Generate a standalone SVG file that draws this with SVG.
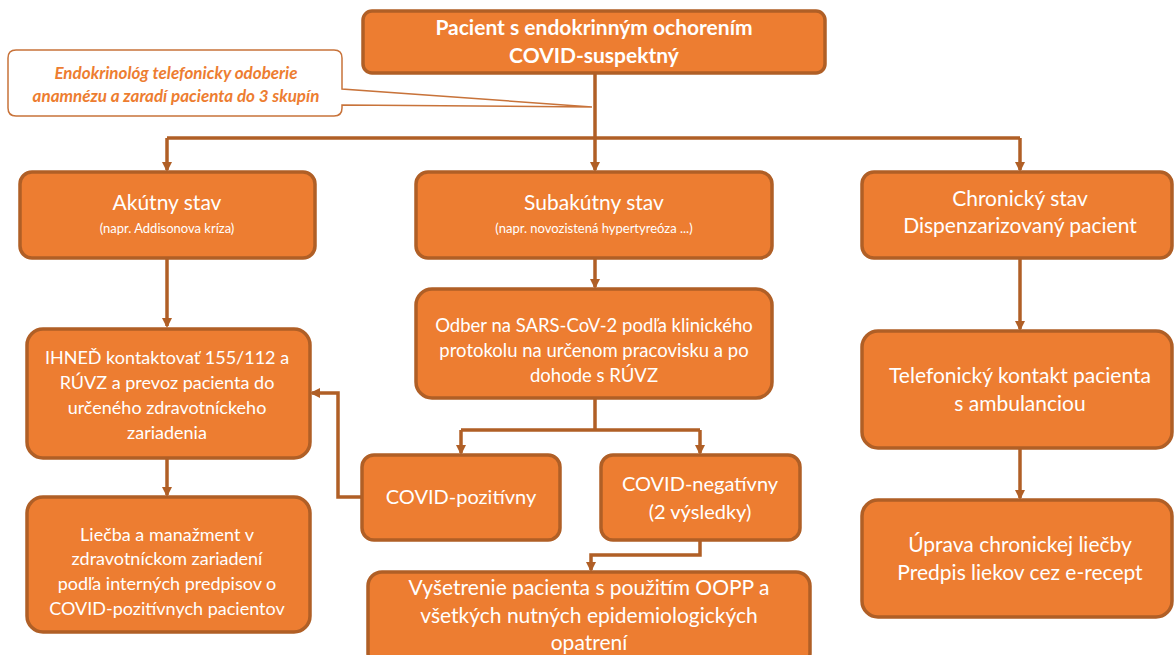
<svg xmlns="http://www.w3.org/2000/svg" width="1176" height="655" viewBox="0 0 1176 655">
<defs>
<marker id="ah" markerWidth="10" markerHeight="10" refX="8" refY="5" orient="auto" markerUnits="userSpaceOnUse" viewBox="0 0 10 10">
<path d="M0,0 L10,5 L0,10 z" fill="#B05F26"/>
</marker>
<style>
.box{fill:#ED7D31;stroke:#B05F26;stroke-width:3.5}
.t{font-family:Lato,"Noto Sans",sans-serif;fill:#fff;text-anchor:middle}
.m{font-size:18px}
.s{font-size:13px}
.h{font-size:21px}
.b{font-size:21px;font-weight:bold}
.c{fill:none;stroke:#B05F26;stroke-width:3.5}
</style>
</defs>
<rect width="1176" height="655" fill="#fff"/>
<g id="connectors">
<path class="c" d="M595,73 V138"/>
<path class="c" d="M167,138 H1020"/>
<path class="c" d="M167,138 V170" marker-end="url(#ah)"/>
<path class="c" d="M595,138 V170" marker-end="url(#ah)"/>
<path class="c" d="M1020,138 V170" marker-end="url(#ah)"/>
<path class="c" d="M167,259 V326" marker-end="url(#ah)"/>
<path class="c" d="M595,259 V287" marker-end="url(#ah)"/>
<path class="c" d="M1020,259 V329" marker-end="url(#ah)"/>
<path class="c" d="M595,399 V430 M461,430 H700"/>
<path class="c" d="M461,430 V453" marker-end="url(#ah)"/>
<path class="c" d="M700,430 V453" marker-end="url(#ah)"/>
<path class="c" d="M362,497 H338 V393 H312" marker-end="url(#ah)"/>
<path class="c" d="M167,459 V495" marker-end="url(#ah)"/>
<path class="c" d="M700,541 V555 H591 V570" marker-end="url(#ah)"/>
<path class="c" d="M1020,449 V498" marker-end="url(#ah)"/>
</g>
<g id="callout">
<path d="M16,50 H334 Q342,50 342,58 V89 L592,107 L342,105 V108 Q342,116 334,116 H16 Q8,116 8,108 V58 Q8,50 16,50 Z" fill="#fff" stroke="#C8733A" stroke-width="1.5"/>
<text class="t" x="176" y="79" style="font-size:17px;font-weight:bold;font-style:italic;fill:#ED7D31">Endokrinológ telefonicky odoberie</text>
<text class="t" x="176" y="102" style="font-size:17px;font-weight:bold;font-style:italic;fill:#ED7D31">anamnézu a zaradí pacienta do 3 skupín</text>
</g>
<g id="n-top">
<rect class="box" x="363" y="11" width="462" height="62" rx="9"/>
<text class="t b" x="594" y="35">Pacient s endokrinným ochorením</text>
<text class="t b" x="594" y="63">COVID-suspektný</text>
</g>
<g id="n-akutny">
<rect class="box" x="20" y="172" width="295" height="86" rx="12"/>
<text class="t h" x="167" y="210">Akútny stav</text>
<text class="t s" x="167" y="233">(napr. Addisonova kríza)</text>
</g>
<g id="n-subakutny">
<rect class="box" x="416" y="172" width="356" height="86" rx="12"/>
<text class="t h" x="594" y="210">Subakútny stav</text>
<text class="t s" x="594" y="233">(napr. novozistená hypertyreóza ...)</text>
</g>
<g id="n-chronicky">
<rect class="box" x="862" y="172" width="310" height="86" rx="12"/>
<text class="t h" x="1020" y="206">Chronický stav</text>
<text class="t h" x="1020" y="233">Dispenzarizovaný pacient</text>
</g>
<g id="n-ihned">
<rect class="box" x="27" y="329" width="283" height="129" rx="16"/>
<text class="t m" x="167" y="364">IHNEĎ kontaktovať 155/112 a</text>
<text class="t m" x="167" y="389">RÚVZ  a prevoz pacienta do</text>
<text class="t m" x="167" y="414">určeného zdravotníckeho</text>
<text class="t m" x="167" y="439">zariadenia</text>
</g>
<g id="n-odber">
<rect class="box" x="416" y="289" width="356" height="109" rx="16"/>
<text class="t" x="594" y="332" style="font-size:18.5px">Odber na SARS-CoV-2 podľa klinického</text>
<text class="t" x="594" y="357" style="font-size:18.5px">protokolu na určenom pracovisku a po</text>
<text class="t" x="594" y="382" style="font-size:18.5px">dohode s RÚVZ</text>
</g>
<g id="n-telefon">
<rect class="box" x="862" y="331" width="310" height="117" rx="16"/>
<text class="t h" x="1020" y="383">Telefonický kontakt pacienta</text>
<text class="t h" x="1020" y="411">s ambulanciou</text>
</g>
<g id="n-pozitivny">
<rect class="box" x="362" y="455" width="198" height="85" rx="12"/>
<text class="t" x="461" y="504" style="font-size:20px">COVID-pozitívny</text>
</g>
<g id="n-negativny">
<rect class="box" x="601" y="455" width="199" height="85" rx="12"/>
<text class="t" x="700" y="491" style="font-size:20px">COVID-negatívny</text>
<text class="t" x="700" y="519" style="font-size:20px">(2 výsledky)</text>
</g>
<g id="n-liecba">
<rect class="box" x="27" y="497" width="283" height="135" rx="16"/>
<text class="t m" x="167" y="541">Liečba a manažment v</text>
<text class="t m" x="167" y="565">zdravotníckom zariadení</text>
<text class="t m" x="167" y="590">podľa interných predpisov o</text>
<text class="t m" x="167" y="615">COVID-pozitívnych pacientov</text>
</g>
<g id="n-uprava">
<rect class="box" x="862" y="500" width="310" height="117" rx="16"/>
<text class="t h" x="1020" y="552">Úprava chronickej liečby</text>
<text class="t h" x="1020" y="580">Predpis liekov cez e-recept</text>
</g>
<g id="n-vysetrenie">
<rect class="box" x="368" y="572" width="442" height="95" rx="14"/>
<text class="t h" x="589" y="595">Vyšetrenie pacienta s použitím OOPP a</text>
<text class="t h" x="589" y="623">všetkých nutných epidemiologických</text>
<text class="t h" x="589" y="650">opatrení</text>
</g>
</svg>
